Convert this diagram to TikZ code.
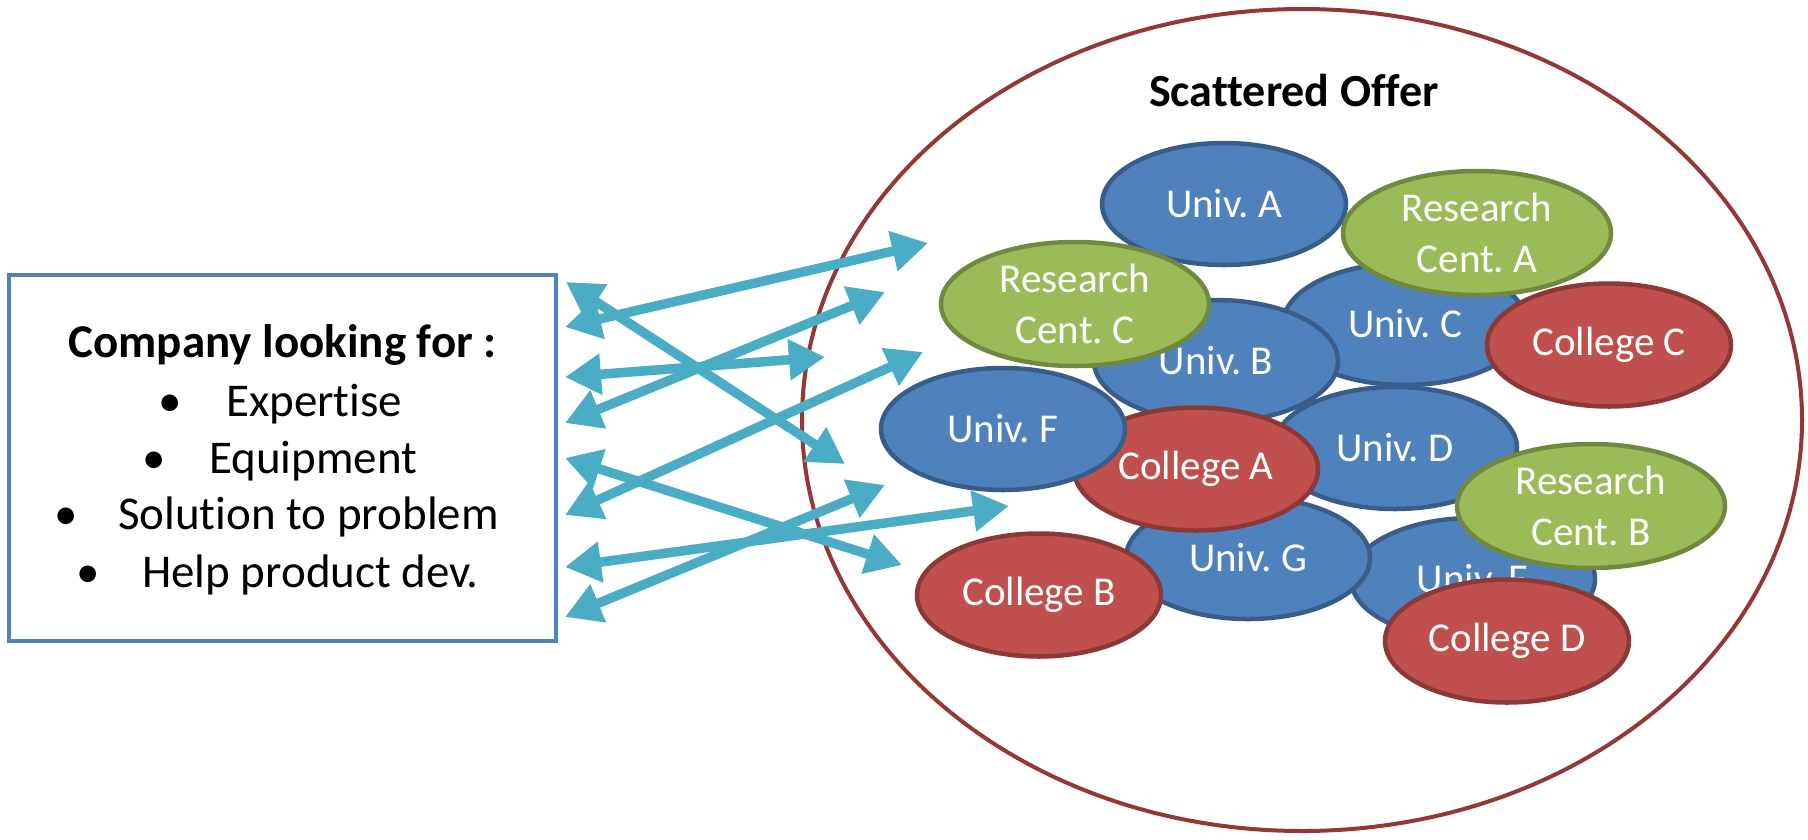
\documentclass[tikz,border=0pt]{standalone}
\usepackage{fontspec}
\setmainfont{Carlito}[Ligatures=NoCommon]
\usetikzlibrary{shapes.geometric,arrows.meta}
\definecolor{ublue}{HTML}{4F81BD}
\definecolor{ubluel}{HTML}{385D8A}
\definecolor{cred}{HTML}{C0504D}
\definecolor{credl}{HTML}{8C3836}
\definecolor{rgreen}{HTML}{9BBB59}
\definecolor{rgreenl}{HTML}{71893F}
\definecolor{arrowc}{HTML}{4BACC6}
\definecolor{outerred}{HTML}{953735}
\definecolor{boxblue}{HTML}{4F81BD}
\frenchspacing
\begin{document}
\begin{tikzpicture}[x=1pt,y=-1pt,
  org/.style={ellipse, inner sep=-45pt, line width=4.5pt, text=white, align=center,
    font=\fontsize{41}{51}\selectfont},
  univ/.style={org, fill=ublue, draw=ubluel, minimum width=244pt, minimum height=122pt},
  coll/.style={org, fill=cred, draw=credl, minimum width=244pt, minimum height=123pt},
  rc/.style={org, fill=rgreen, draw=rgreenl, minimum width=268pt, minimum height=124pt},
  link/.style={draw=arrowc, line width=9.5pt,
    {Triangle[length=36pt,width=39pt]}-{Triangle[length=36pt,width=39pt]}},
  item/.style={anchor=base west, inner sep=0pt, font=\fontsize{47}{57}\selectfont},
  dot/.style={anchor=base, inner sep=0pt, font=\fontsize{47}{57}\selectfont}]
\fill[white] (0,0) rectangle (1808,839);
\useasboundingbox (0,0) rectangle (1808,839);

% container
\node[ellipse, draw=outerred, line width=4pt, minimum width=1000pt, minimum height=822pt, inner sep=0pt] (offer) at (1302,420) {};
\node[anchor=base, inner sep=0pt, font=\bfseries\fontsize{46}{55}\selectfont] (title) at (1294,106) {Scattered Offer};

% company box
\node[draw=boxblue, fill=white, line width=4pt, minimum width=547pt, minimum height=366pt, inner sep=0pt] (company) at (282.5,458) {};
\node[anchor=base, inner sep=0pt, font=\bfseries\fontsize{47}{57}\selectfont] (head) at (282.5,357) {Company looking for :};
\node[dot] (b1) at (170,416) {•}; \node[item] (t1) at (226,416) {Expertise};
\node[dot] (b2) at (154,473) {•}; \node[item] (t2) at (209,473) {Equipment};
\node[dot] (b3) at (66,529) {•};  \node[item] (t3) at (118,529) {Solution to problem};
\node[dot] (b4) at (88,587) {•};  \node[item] (t4) at (142,587) {Help product dev.};

% arrows
\coordinate (aL) at (565,327); \coordinate (aR) at (928,243);
\coordinate (bL) at (566,282); \coordinate (bR) at (845,464);
\coordinate (cL) at (565,377); \coordinate (cR) at (825,357);
\coordinate (dL) at (565,423); \coordinate (dR) at (885,292);
\coordinate (eL) at (565,515); \coordinate (eR) at (923,352);
\coordinate (fL) at (565,458); \coordinate (fR) at (902,565);
\coordinate (gL) at (565,567); \coordinate (gR) at (1009,506);
\coordinate (hL) at (565,617); \coordinate (hR) at (885,485);
\draw[link] (aL) -- (aR);
\draw[link] (bL) -- (bR);
\draw[link] (cL) -- (cR);
\draw[link] (dL) -- (dR);
\draw[link] (eL) -- (eR);
\draw[link] (fL) -- (fR);
\draw[link] (gL) -- (gR);
\draw[link] (hL) -- (hR);

% organisations
\node[univ] (univA) at (1224,204) {Univ. A};
\node[univ] (univC) at (1405,324) {Univ. C};
\node[univ] (univB) at (1216,361) {Univ. B};
\node[rc]   (rcC)   at (1075,304) {Research\\Cent. C};
\node[rc]   (rcA)   at (1477,233) {Research\\Cent. A};
\node[coll] (colC)  at (1609,345) {College C};
\node[univ] (univD) at (1395,448) {Univ. D};
\node[univ] (univE) at (1473,579) {Univ. E};
\node[univ] (univG) at (1248,558) {Univ. G};
\node[coll] (colA)  at (1196,469) {College A};
\node[univ] (univF) at (1003,429) {Univ. F};
\node[coll] (colB)  at (1039,595) {College B};
\node[rc]   (rcB)   at (1591,506) {Research\\Cent. B};
\node[coll] (colD)  at (1507,641) {College D};
\end{tikzpicture}
\end{document}
